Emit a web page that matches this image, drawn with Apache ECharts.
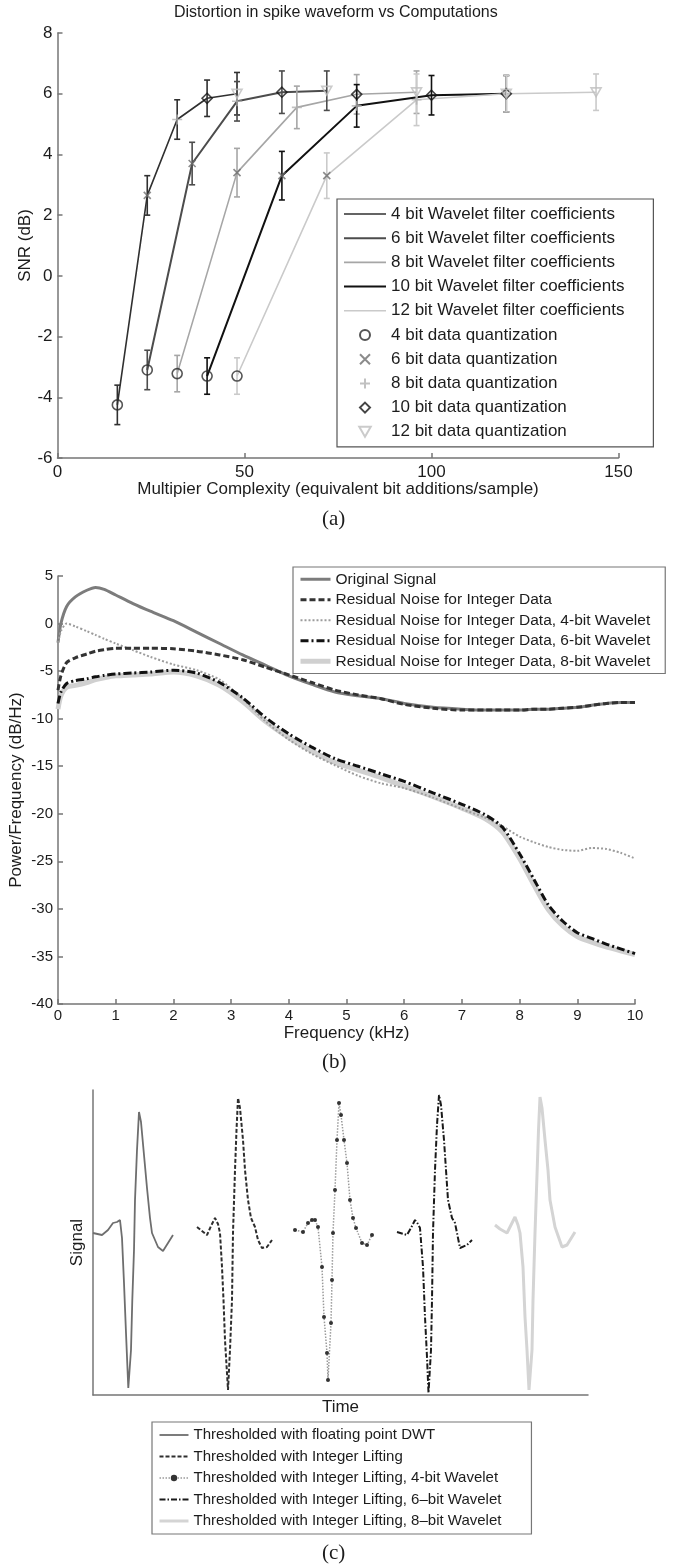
<!DOCTYPE html>
<html>
<head>
<meta charset="utf-8">
<script src="https://cdn.jsdelivr.net/npm/echarts@6/dist/echarts.min.js"></script>
<style>
  html, body { margin: 0; padding: 0; background: #fff; }
  #chart { width: 680px; height: 1567px; }
</style>
</head>
<body>
<div id="chart"></div>
<script>
// ---------- panel (a): SNR vs multiplier complexity ----------
const waveletNames = [
    '4 bit Wavelet filter coefficients',
    '6 bit Wavelet filter coefficients',
    '8 bit Wavelet filter coefficients',
    '10 bit Wavelet filter coefficients',
    '12 bit Wavelet filter coefficients',
];
const quantNames = [
    '4 bit data quantization',
    '6 bit data quantization',
    '8 bit data quantization',
    '10 bit data quantization',
    '12 bit data quantization',
];
// one point per data quantization (4, 6, 8, 10, 12 bit)
const complexityW4 = [16, 24, 32, 40, 48];
const complexityW6 = [24, 36, 48, 60, 72];
const complexityW8 = [32, 48, 64, 80, 96];
const complexityW10 = [40, 60, 80, 100, 120];
const complexityW12 = [48, 72, 96, 120, 144];
const snrW4 = [-4.25, 2.65, 5.15, 5.85, 6.0];
const snrW6 = [-3.1, 3.7, 5.75, 6.05, 6.1];
const snrW8 = [-3.22, 3.4, 5.55, 5.98, 6.05];
const snrW10 = [-3.3, 3.3, 5.6, 5.95, 6.0];
const snrW12 = [-3.3, 3.3, 5.8, 6.0, 6.05];
const errW4 = [0.65, 0.65, 0.65, 0.6, 0.7];
const errW6 = [0.65, 0.7, 0.65, 0.7, 0.65];
const errW8 = [0.6, 0.8, 0.7, 0.65, 0.7];
const errW10 = [0.6, 0.8, 0.7, 0.65, 0.6];
const errW12 = [0.6, 0.75, 0.85, 0.6, 0.6];

// ---------- panel (b): power spectral density ----------
const psdNames = [
    'Original Signal',
    'Residual Noise for Integer Data',
    'Residual Noise for Integer Data, 4-bit Wavelet',
    'Residual Noise for Integer Data, 6-bit Wavelet',
    'Residual Noise for Integer Data, 8-bit Wavelet',
];
const freqKHz = [0, 0.05, 0.15, 0.3, 0.5, 0.65, 0.8, 1.0, 1.3, 1.6, 2.0, 2.4, 2.8, 3.2, 3.6, 4.0, 4.4,
    4.8, 5.2, 5.6, 6.0, 6.5, 7.0, 7.4, 7.7, 8.0, 8.25, 8.5, 8.75, 9.0, 9.25, 9.5, 9.75, 10];
const psdOriginal = [-2.0, 0.0, 1.8, 2.8, 3.5, 3.8, 3.6, 3.0, 2.1, 1.3, 0.3, -0.9, -2.1, -3.3, -4.4, -5.5, -6.4,
    -7.2, -7.6, -7.9, -8.4, -8.8, -9.0, -9.1, -9.1, -9.1, -9.0, -9.0, -8.9, -8.8, -8.6, -8.4, -8.3, -8.3];
const psdResidual = [-7.0, -5.5, -4.1, -3.6, -3.2, -2.9, -2.75, -2.6, -2.6, -2.6, -2.65, -2.9, -3.3, -3.8, -4.6, -5.4, -6.2,
    -7.0, -7.5, -7.9, -8.5, -8.9, -9.1, -9.1, -9.1, -9.1, -9.0, -9.0, -8.9, -8.8, -8.6, -8.4, -8.3, -8.3];
const psdWavelet4 = [-2.0, -0.8, 0.0, -0.3, -0.8, -1.2, -1.6, -2.1, -2.8, -3.5, -4.3, -4.9, -5.9, -7.9, -10.3, -12.2, -13.7,
    -14.9, -16.0, -16.8, -17.3, -18.3, -19.5, -20.4, -21.3, -22.4, -23.0, -23.5, -23.8, -23.9, -23.6, -23.7, -24.1, -24.7];
const psdWavelet6 = [-8.4, -7.2, -6.3, -6.0, -5.8, -5.6, -5.45, -5.3, -5.2, -5.1, -4.9, -5.2, -6.2, -7.8, -9.9, -11.6, -13.0,
    -14.2, -15.0, -15.8, -16.6, -17.8, -19.0, -20.1, -21.4, -24.2, -26.9, -29.6, -31.3, -32.5, -33.1, -33.7, -34.2, -34.7];
const psdWavelet8 = [-9.0, -7.6, -6.7, -6.5, -6.2, -5.9, -5.7, -5.5, -5.4, -5.3, -5.1, -5.5, -6.5, -8.2, -10.3, -12.0, -13.4,
    -14.6, -15.4, -16.2, -17.1, -18.2, -19.4, -20.5, -21.9, -24.7, -27.5, -30.1, -31.8, -32.9, -33.5, -34.0, -34.4, -34.8];

// ---------- panel (c): thresholded spike waveforms ----------
const spikeNames = [
    'Thresholded with floating point DWT',
    'Thresholded with Integer Lifting',
    'Thresholded with Integer Lifting, 4-bit Wavelet',
    'Thresholded with Integer Lifting, 6–bit Wavelet',
    'Thresholded with Integer Lifting, 8–bit Wavelet',
];
const spikeFloatT = [0, 9, 15, 20, 24, 27, 29, 31, 33, 35.3, 38, 39.3, 41, 42, 44, 46, 48, 51, 54, 57, 59, 65, 70, 75, 80];
const spikeFloatV = [0, -2, 3, 10, 11, 13, -5, -50, -100, -155, -117, -67, -17, 33, 83, 121, 111, 78, 45, 15, 0, -14, -18, -10, -2];
const spikeIntT = [104, 114, 118, 122, 125, 127, 129, 130.5, 132, 135, 137, 139, 140, 142, 143.5, 145, 147, 150, 152, 155, 158, 162, 165, 169, 174, 179];
const spikeIntV = [6, -2, 7, 15, 9, 0, -34, -67, -107, -157, -117, -67, 0, 63, 103, 135, 125, 93, 63, 33, 15, 6, -7, -15, -14, -7];
const spikeW4T = [202, 210, 215, 219, 222, 225, 229, 231, 234, 235, 238, 239, 240, 242, 244, 246, 248, 251, 254, 257, 260, 263, 269, 274, 279];
const spikeW4V = [3, 1, 10, 13, 13, 6, -34, -84, -120, -147, -90, -47, 0, 43, 93, 130, 118, 93, 70, 33, 15, 5, -10, -12, -2];
const spikeW6T = [304, 314, 318, 322, 325, 327, 330, 332, 334, 335.5, 338, 339, 340, 342, 344, 346, 348, 351, 353, 355, 359, 362, 367, 374, 379];
const spikeW6V = [1, -2, 5, 13, 9, 5, -34, -84, -124, -160, -117, -67, 0, 63, 108, 138, 128, 93, 63, 33, 15, 10, -15, -12, -7];
const spikeW8T = [402, 407, 414, 418, 422, 425, 427, 430, 432, 434, 436, 439, 440, 442, 444, 445.5, 447, 449, 452, 455, 457, 462, 469, 474, 482];
const spikeW8V = [8, 4, 0, 8, 16, 8, 0, -34, -84, -117, -157, -117, -67, 0, 58, 103, 136, 125, 93, 63, 33, 6, -14, -12, 1];

// ---------- styling ----------
const FONT = '"Liberation Sans", Arial, Helvetica, sans-serif';
const SERIF = '"Liberation Serif", "Times New Roman", serif';
const INK = '#1c1c1c';
const AXIS = '#767676';
// hides the dot ECharts puts on line legend icons
const NO_DOT = { color: 'transparent', borderColor: 'transparent', borderWidth: 0, opacity: 0 };

const zip = (xs, ys) => xs.map((x, i) => [x, ys[i]]);

const wavelets = [
    { name: waveletNames[0], x: complexityW4, y: snrW4, err: errW4, color: '#303030', width: 1.6 },
    { name: waveletNames[1], x: complexityW6, y: snrW6, err: errW6, color: '#4c4c4c', width: 2 },
    { name: waveletNames[2], x: complexityW8, y: snrW8, err: errW8, color: '#a6a6a6', width: 1.6 },
    { name: waveletNames[3], x: complexityW10, y: snrW10, err: errW10, color: '#111111', width: 2 },
    { name: waveletNames[4], x: complexityW12, y: snrW12, err: errW12, color: '#cacaca', width: 1.6 },
];

const quantMarks = [
    { symbol: 'circle', size: 10, color: '#2a2a2a' },
    { symbol: 'path://M0,0L10,10M10,0L0,10', size: 7, color: '#6e6e6e' },
    { symbol: 'path://M5,0L5,10M0,5L10,5', size: 10, color: '#b2b2b2' },
    { symbol: 'path://M5,0L10,5L5,10L0,5Z', size: 10, color: '#151515' },
    { symbol: 'path://M0,0L10,0L5,8.7Z', size: 10, color: '#bebebe' },
];

/**
 * Builds a renderItem that draws a capped vertical error bar.
 * @param {string} color - Bar colour.
 * @returns {Function} - renderItem callback.
 */
const errorBar = (color) => (params, api) => {
    const x = api.value(0);
    const y = api.value(1);
    const e = api.value(2);
    const hi = api.coord([x, y + e]);
    const lo = api.coord([x, y - e]);
    const cap = 3;
    const style = { stroke: color, lineWidth: 1.6, fill: null };
    return {
        type: 'group',
        children: [
            { type: 'line', shape: { x1: hi[0], y1: hi[1], x2: lo[0], y2: lo[1] }, style },
            { type: 'line', shape: { x1: hi[0] - cap, y1: hi[1], x2: hi[0] + cap, y2: hi[1] }, style },
            { type: 'line', shape: { x1: lo[0] - cap, y1: lo[1], x2: lo[0] + cap, y2: lo[1] }, style },
        ],
    };
};

const axisBase = (extra) => Object.assign({
    type: 'value',
    axisLine: { show: true, onZero: false, lineStyle: { color: AXIS, width: 1.5 } },
    axisTick: { show: true, inside: true, length: 5, lineStyle: { color: AXIS, width: 1.5 } },
    splitLine: { show: false },
    nameLocation: 'middle',
    nameMoveOverlap: false,
    nameTextStyle: { fontFamily: FONT, fontSize: 17, color: INK },
}, extra);

const series = [];

// (a) lines, error bars, quantization markers
wavelets.forEach((w) => {
    series.push({
        type: 'line', name: w.name, xAxisIndex: 0, yAxisIndex: 0,
        data: zip(w.x, w.y), symbol: 'none', z: 2,
        lineStyle: { color: w.color, width: w.width }, itemStyle: { color: w.color },
    });
    series.push({
        type: 'custom', name: w.name + ' (err)', xAxisIndex: 0, yAxisIndex: 0,
        data: w.x.map((x, i) => [x, w.y[i], w.err[i]]),
        encode: { x: 0, y: 1 }, renderItem: errorBar(w.color), z: 3,
    });
});
quantMarks.forEach((q, k) => {
    series.push({
        type: 'scatter', name: quantNames[k], xAxisIndex: 0, yAxisIndex: 0,
        data: wavelets.map((w) => [w.x[k], w.y[k]]),
        symbol: q.symbol, symbolSize: q.size, symbolKeepAspect: true, z: 4,
        itemStyle: { color: 'transparent', borderColor: q.color, borderWidth: 1.6 },
    });
});

// (b) spectra (drawing order: light band first)
const psdStyles = [
    { name: psdNames[4], data: psdWavelet8, color: '#d0d0d0', width: 5, type: 'solid' },
    { name: psdNames[0], data: psdOriginal, color: '#7c7c7c', width: 3, type: 'solid' },
    { name: psdNames[2], data: psdWavelet4, color: '#9c9c9c', width: 2, type: [2, 2] },
    { name: psdNames[1], data: psdResidual, color: '#333333', width: 3, type: [6, 3] },
    { name: psdNames[3], data: psdWavelet6, color: '#111111', width: 3, type: [8, 3, 2, 3] },
];
psdStyles.forEach((s) => {
    series.push({
        type: 'line', name: s.name, xAxisIndex: 1, yAxisIndex: 1,
        data: zip(freqKHz, s.data), symbol: 'none', smooth: 0.25,
        lineStyle: { color: s.color, width: s.width, type: s.type }, itemStyle: { color: s.color },
    });
});

// (c) spikes
const spikeStyles = [
    { t: spikeFloatT, v: spikeFloatV, color: '#6e6e6e', width: 1.8, type: 'solid' },
    { t: spikeIntT, v: spikeIntV, color: '#2e2e2e', width: 2, type: [4, 2] },
    { t: spikeW4T, v: spikeW4V, color: '#9a9a9a', width: 1.5, type: [1.5, 1.5], dots: true },
    { t: spikeW6T, v: spikeW6V, color: '#1a1a1a', width: 2, type: [6, 2, 1.5, 2] },
    { t: spikeW8T, v: spikeW8V, color: '#d4d4d4', width: 3, type: 'solid' },
];
spikeStyles.forEach((s, i) => {
    series.push({
        type: 'line', name: spikeNames[i], xAxisIndex: 2, yAxisIndex: 2,
        data: zip(s.t, s.v),
        symbol: s.dots ? 'circle' : 'none', symbolSize: 4, showAllSymbol: true,
        lineStyle: { color: s.color, width: s.width, type: s.type },
        itemStyle: { color: s.dots ? '#333' : s.color },
    });
});

const legendText = (size) => ({ fontFamily: FONT, fontSize: size, color: INK, lineHeight: size + 1 });

const option = {
    animation: false,
    backgroundColor: '#fff',
    title: [
        { text: 'Distortion in spike waveform vs Computations', left: 174, top: 5, padding: 0,
          textStyle: { fontFamily: FONT, fontSize: 16, fontWeight: 'normal', color: INK } },
        { text: '(a)', left: 322, top: 509, padding: 0,
          textStyle: { fontFamily: SERIF, fontSize: 21, fontWeight: 'normal', color: INK } },
        { text: '(b)', left: 322, top: 1052, padding: 0,
          textStyle: { fontFamily: SERIF, fontSize: 21, fontWeight: 'normal', color: INK } },
        { text: '(c)', left: 322, top: 1543, padding: 0,
          textStyle: { fontFamily: SERIF, fontSize: 21, fontWeight: 'normal', color: INK } },
    ],
    grid: [
        { left: 57.5, top: 33, width: 561, height: 425, outerBoundsMode: 'none' },
        { left: 58, top: 576, width: 577, height: 428, outerBoundsMode: 'none' },
        { left: 93, top: 1090, width: 495, height: 305, outerBoundsMode: 'none' },
    ],
    xAxis: [
        axisBase({ gridIndex: 0, min: 0, max: 150, interval: 50,
            axisLabel: { color: INK, fontFamily: FONT, fontSize: 17, margin: 6 },
            name: 'Multipier Complexity (equivalent bit additions/sample)', nameGap: 23 }),
        axisBase({ gridIndex: 1, min: 0, max: 10, interval: 1,
            axisLabel: { color: INK, fontFamily: FONT, fontSize: 15, margin: 4 },
            name: 'Frequency (kHz)', nameGap: 21 }),
        axisBase({ gridIndex: 2, min: 0, max: 495,
            axisTick: { show: false }, axisLabel: { show: false },
            name: 'Time', nameGap: 4 }),
    ],
    yAxis: [
        axisBase({ gridIndex: 0, min: -6, max: 8, interval: 2,
            axisLabel: { color: INK, fontFamily: FONT, fontSize: 17, margin: 5 },
            name: 'SNR (dB)', nameGap: 24 }),
        axisBase({ gridIndex: 1, min: -40, max: 5, interval: 5,
            axisLabel: { color: INK, fontFamily: FONT, fontSize: 15, margin: 5 },
            name: 'Power/Frequency (dB/Hz)', nameGap: 33 }),
        axisBase({ gridIndex: 2, min: -162, max: 143,
            axisTick: { show: false }, axisLabel: { show: false },
            name: 'Signal', nameGap: 7 }),
    ],
    legend: [
        {
            orient: 'vertical', left: 337, top: 199, padding: [6, 29, 6, 6],
            itemWidth: 42, itemHeight: 10, itemGap: 6.2, selectedMode: false,
            backgroundColor: '#fff', borderColor: '#555', borderWidth: 1.2, borderRadius: 0,
            textStyle: legendText(17),
            data: wavelets.map((w) => ({ name: w.name, lineStyle: { width: w.width }, itemStyle: NO_DOT }))
                .concat(quantNames.map((n) => ({ name: n }))),
        },
        {
            orient: 'vertical', left: 293, top: 567, padding: [4, 15, 4, 5],
            itemWidth: 30, itemHeight: 10, itemGap: 4, selectedMode: false,
            backgroundColor: '#fff', borderColor: '#777', borderWidth: 1.2, borderRadius: 0,
            textStyle: legendText(15.5),
            data: psdNames.map((n) => {
                const s = psdStyles.find((p) => p.name === n);
                return { name: n, lineStyle: { width: s.width }, itemStyle: NO_DOT };
            }),
        },
        {
            orient: 'vertical', left: 152, top: 1422, padding: [5, 30, 5, 6],
            itemWidth: 29, itemHeight: 8, itemGap: 5.5, selectedMode: false,
            backgroundColor: '#fff', borderColor: '#777', borderWidth: 1.2, borderRadius: 0,
            textStyle: legendText(15),
            data: spikeNames.map((n, i) => ({
                name: n,
                lineStyle: { width: spikeStyles[i].width },
                itemStyle: spikeStyles[i].dots ? undefined : NO_DOT,
            })),
        },
    ],
    series,
};

const chart = echarts.init(document.getElementById('chart'));
chart.setOption(option);
window.addEventListener('resize', chart.resize);
</script>
</body>
</html>
